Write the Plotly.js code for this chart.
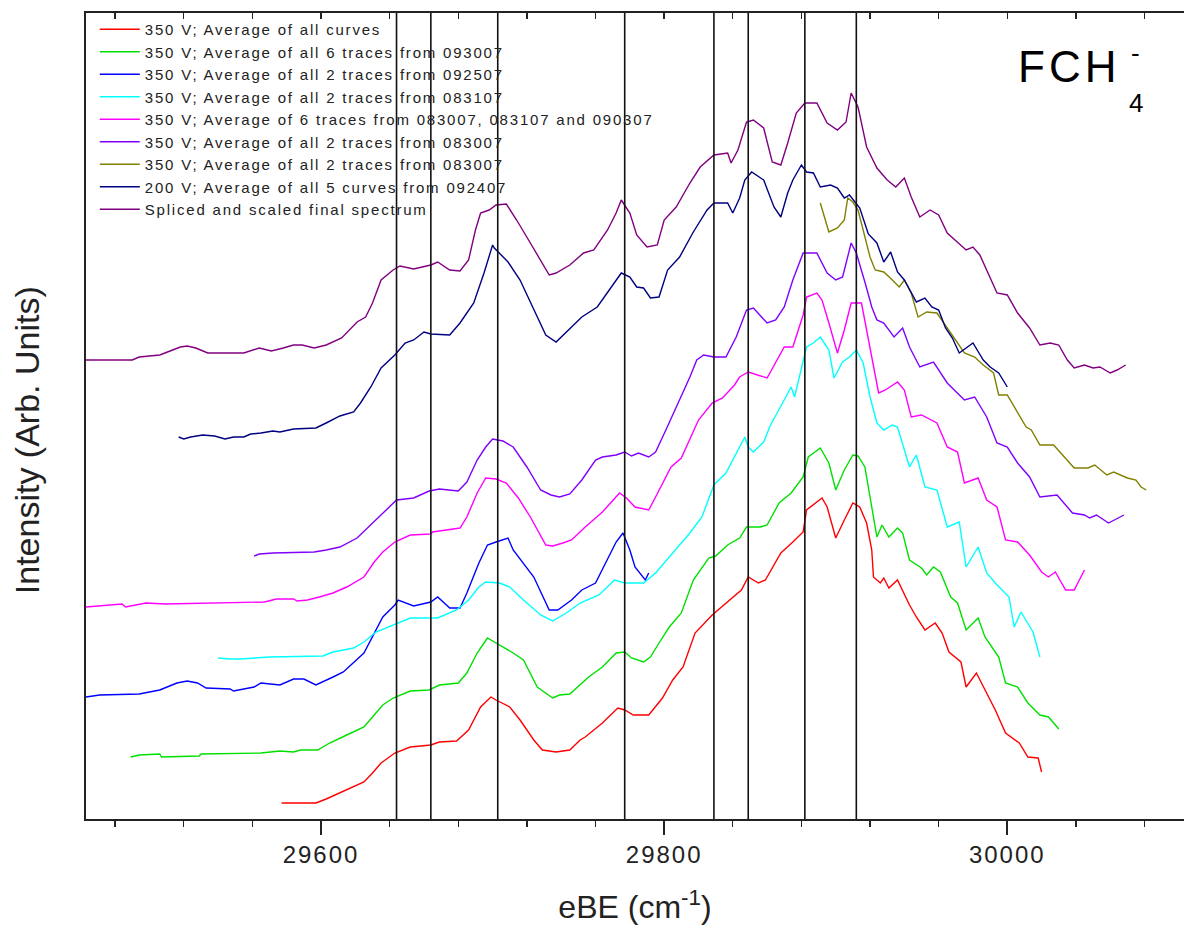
<!DOCTYPE html>
<html>
<head>
<meta charset="utf-8">
<script src="https://cdn.plot.ly/plotly-3.0.1.min.js"></script>
<style>
html,body{margin:0;padding:0;background:#fff;}
#chart{width:1184px;height:933px;}
.legendtext{letter-spacing:1.8px;}
.xtick text{letter-spacing:2px;}
</style>
</head>
<body>
<div id="chart"></div>
<script>
// eBE (cm^-1) and intensity (arbitrary units)
const redX = [29577,29597,29603,29615,29625,29630,29635,29643,29652,29664,29669,29679,29686,29693,29699,29702,29710,29716,29724,29729,29737,29745,29751,29754,29764,29773,29777,29782,29791,29799,29805,29811,29818,29828,29836,29845,29849,29855,29859,29868,29875,29881,29883,29889,29892,29895,29900,29905,29910,29914,29918,29921,29922,29926,29928,29931,29936,29943,29947,29952,29958,29962,29966,29973,29976,29982,29987,29993,29999,30007,30012,30018,30020];
const redY = [16,16,20,29,37,46,56,66,72,74,77,78,89,112,122,119,112,99,79,69,67,69,79,82,96,111,109,104,104,121,139,152,186,204,216,229,242,236,239,266,277,287,309,317,321,312,281,299,316,312,296,269,242,236,241,231,239,214,202,189,196,186,167,157,132,146,129,109,86,76,62,61,47];

const greenX = [29489,29494,29506,29507,29529,29530,29565,29576,29584,29588,29598,29605,29615,29625,29630,29636,29642,29652,29663,29669,29680,29685,29691,29697,29701,29706,29712,29718,29726,29735,29739,29745,29751,29756,29764,29772,29777,29781,29788,29792,29797,29803,29810,29817,29826,29830,29837,29844,29848,29856,29860,29867,29874,29881,29884,29891,29896,29900,29905,29910,29913,29917,29920,29924,29927,29931,29936,29939,29943,29950,29953,29957,29961,29967,29971,29976,29983,29987,29995,29999,30006,30012,30019,30024,30030];
const greenY = [62,64,65,62,63,65,66,68,67,69,69,76,84,92,102,114,121,128,129,134,136,146,166,181,177,172,166,159,132,121,124,125,134,142,152,166,167,161,157,162,176,192,206,239,261,263,274,281,292,292,294,316,326,342,362,371,356,329,349,364,363,352,322,282,294,282,291,286,259,251,244,252,247,222,216,189,201,182,162,136,132,116,104,102,90];

const blueX = [29463,29471,29494,29506,29516,29522,29528,29533,29547,29549,29561,29565,29576,29584,29590,29597,29607,29613,29625,29630,29636,29643,29645,29654,29664,29668,29675,29681,29685,29692,29697,29702,29709,29712,29718,29724,29733,29738,29746,29752,29760,29766,29772,29776,29780,29783,29789,29791];
const blueY = [122,124,125,129,136,138,136,131,130,128,132,136,134,140,140,134,142,147,166,182,202,214,219,213,217,222,211,211,226,256,274,277,281,269,256,242,209,209,219,229,236,256,277,286,269,252,239,246];

const cyanX = [29540,29547,29553,29570,29601,29607,29619,29625,29632,29642,29652,29668,29679,29686,29692,29696,29704,29710,29718,29728,29735,29743,29751,29762,29771,29777,29788,29795,29805,29815,29822,29829,29836,29841,29847,29849,29852,29858,29862,29869,29874,29876,29881,29883,29887,29891,29896,29899,29904,29908,29912,29916,29920,29924,29928,29933,29936,29940,29943,29947,29952,29959,29965,29972,29976,29983,29988,29993,30001,30004,30008,30015,30019];
const cyanY = [161,160,160,162,163,167,171,177,187,194,201,201,209,219,232,237,236,232,219,204,198,206,216,224,239,236,236,246,266,286,302,334,346,362,382,372,367,377,394,416,432,422,456,472,476,482,469,441,457,462,469,456,422,396,389,394,392,369,352,364,332,329,292,297,252,272,246,236,222,192,207,187,162];

const magentaX = [29463,29484,29486,29498,29509,29532,29567,29574,29584,29586,29592,29599,29607,29615,29625,29631,29636,29643,29652,29664,29665,29681,29685,29691,29696,29702,29708,29715,29722,29731,29735,29741,29746,29754,29764,29774,29778,29783,29791,29795,29804,29810,29820,29828,29834,29841,29844,29849,29860,29870,29875,29881,29883,29889,29892,29896,29901,29905,29909,29915,29919,29923,29925,29929,29936,29940,29944,29950,29959,29965,29971,29975,29983,29988,29994,29999,30006,30013,30020,30024,30028,30034,30039,30045];
const magentaY = [212,215,212,216,215,216,217,220,220,218,219,222,226,232,242,257,267,277,284,285,287,291,302,326,341,340,336,321,302,274,273,276,279,292,307,326,321,312,309,322,352,361,399,416,421,434,442,447,441,472,472,504,522,526,519,496,466,489,516,516,479,442,426,429,437,429,402,404,396,372,367,336,341,319,312,279,277,264,247,242,247,229,229,249];

const violetX = [29561,29564,29572,29596,29603,29611,29621,29629,29638,29644,29654,29663,29669,29680,29685,29691,29696,29700,29706,29712,29720,29728,29734,29739,29745,29752,29760,29764,29772,29777,29781,29785,29791,29795,29801,29811,29815,29819,29823,29829,29836,29842,29848,29852,29860,29865,29870,29875,29881,29889,29895,29900,29904,29909,29912,29917,29921,29924,29928,29934,29939,29943,29949,29957,29965,29975,29981,29988,29994,30000,30006,30013,30019,30029,30038,30045,30048,30052,30059,30068];
const violetY = [263,265,266,267,269,272,281,294,309,319,321,328,330,328,337,359,372,380,378,372,352,329,324,322,325,339,359,362,364,367,363,366,362,367,389,426,442,459,464,462,462,482,509,511,496,499,512,539,566,566,546,539,542,576,566,537,512,499,496,482,491,472,452,457,436,419,422,402,376,372,356,342,322,324,306,304,301,304,296,304];

const oliveX = [29891,29896,29901,29905,29907,29910,29913,29917,29920,29923,29928,29933,29937,29940,29944,29948,29953,29959,29965,29969,29975,29981,29986,29992,29995,30000,30005,30011,30014,30019,30027,30033,30039,30047,30051,30058,30062,30070,30075,30078,30081];
const oliveY = [616,587,591,599,621,617,609,582,562,549,547,539,532,539,526,502,507,506,491,482,466,462,454,446,424,424,409,392,389,374,374,362,351,351,354,344,347,341,339,332,329];

const navyX = [29517,29520,29524,29531,29538,29544,29549,29555,29559,29565,29572,29576,29584,29597,29603,29611,29619,29623,29629,29635,29643,29649,29654,29660,29664,29675,29681,29689,29695,29700,29701,29709,29716,29724,29731,29737,29744,29752,29761,29769,29775,29780,29784,29788,29792,29797,29802,29809,29817,29825,29829,29837,29840,29844,29847,29851,29858,29864,29868,29872,29875,29880,29883,29887,29891,29897,29901,29905,29908,29914,29919,29924,29928,29932,29936,29940,29944,29947,29952,29956,29960,29964,29968,29972,29976,29980,29986,29990,29995,30000];
const navyY = [382,380,382,384,383,380,382,382,385,386,388,387,390,391,396,403,407,416,432,451,464,476,479,487,485,484,496,516,546,574,571,557,539,509,484,477,489,502,512,532,546,542,532,531,521,522,549,562,587,609,616,616,606,621,639,647,639,612,602,626,639,654,647,646,632,634,631,621,624,611,585,576,557,567,547,539,526,517,521,512,509,491,481,466,471,476,459,452,446,432];

const finalX = [29463,29490,29494,29506,29512,29518,29522,29527,29534,29555,29564,29571,29578,29584,29589,29596,29603,29612,29621,29626,29630,29635,29642,29646,29654,29664,29668,29675,29681,29686,29690,29693,29698,29702,29708,29714,29722,29728,29733,29737,29745,29753,29759,29767,29772,29775,29780,29784,29790,29796,29800,29807,29815,29821,29829,29837,29839,29843,29848,29852,29858,29863,29868,29872,29877,29882,29889,29895,29901,29906,29909,29913,29918,29924,29930,29935,29940,29944,29949,29955,29960,29965,29976,29980,29984,29994,30000,30006,30013,30019,30025,30030,30035,30039,30045,30050,30054,30060,30064,30069];
const finalY = [459,459,462,464,468,472,473,471,466,466,471,468,471,474,474,471,474,481,497,502,516,539,549,553,550,554,557,549,548,559,589,606,609,614,615,599,576,559,544,546,554,566,569,589,606,619,606,584,572,574,599,612,636,652,664,666,656,669,697,699,691,657,654,676,706,716,716,696,689,697,726,712,672,651,639,632,641,622,602,609,604,586,569,572,564,526,524,506,491,474,476,474,459,451,454,451,452,446,449,454];

const peakPositions = [29644, 29664, 29703, 29777, 29829, 29849, 29882, 29912];

const seriesNames = [
  "350 V; Average of all curves",
  "350 V; Average of all 6 traces from 093007",
  "350 V; Average of all 2 traces from 092507",
  "350 V; Average of all 2 traces from 083107",
  "350 V; Average of 6 traces from 083007, 083107 and 090307",
  "350 V; Average of all 2 traces from 083007",
  "350 V; Average of all 2 traces from 083007",
  "200 V; Average of all 5 curves from 092407",
  "Spliced and scaled final spectrum"
];
const seriesColors = ["#ff0000","#00e000","#0000ff","#00ffff","#ff00ff","#8000ff","#808000","#000080","#800080"];
const seriesX = [redX, greenX, blueX, cyanX, magentaX, violetX, oliveX, navyX, finalX];
const seriesY = [redY, greenY, blueY, cyanY, magentaY, violetY, oliveY, navyY, finalY];

const FONT = "Liberation Sans, Arial, sans-serif";
const traces = seriesNames.map((name, i) => ({
  type: "scatter", mode: "lines", name: name,
  x: seriesX[i], y: seriesY[i],
  line: {color: seriesColors[i], width: 1.4},
  hoverinfo: "skip"
}));
traces.push({type: "scatter", mode: "lines", x: [], y: [], xaxis: "x2", showlegend: false, hoverinfo: "skip"});

const xRange = [29463, 30103];
const shapes = peakPositions.map(p => ({
  type: "line", xref: "x", yref: "paper", x0: p, x1: p, y0: 0, y1: 1,
  line: {color: "#111", width: 1.6}
}));

const layout = {
  width: 1184, height: 933,
  margin: {l: 86, r: 0, t: 13, b: 114},
  paper_bgcolor: "#fff", plot_bgcolor: "#fff",
  font: {family: FONT, color: "#222"},
  showlegend: true,
  legend: {
    x: 0.008, y: 1.0, xanchor: "left", yanchor: "top",
    bgcolor: "rgba(0,0,0,0)", borderwidth: 0,
    font: {family: FONT, size: 15, color: "#222"},
    itemwidth: 40, traceorder: "normal"
  },
  xaxis: {
    range: xRange, showline: true, linecolor: "#222", linewidth: 1.6,
    ticks: "outside", ticklen: 14, tickwidth: 1.6, tickcolor: "#222",
    tick0: 29600, dtick: 200, tickformat: "d",
    tickfont: {family: FONT, size: 24, color: "#222"},
    minor: {tick0: 29600, dtick: 40, ticks: "outside", ticklen: 6, tickwidth: 1.4, tickcolor: "#222", showgrid: false},
    showgrid: false, zeroline: false,
    title: {text: "eBE (cm<sup>-1</sup>)", font: {family: FONT, size: 32, color: "#222"}, standoff: 28}
  },
  xaxis2: {
    overlaying: "x", side: "top", anchor: "y", range: xRange,
    showline: true, linecolor: "#222", linewidth: 1.6,
    ticks: "inside", ticklen: 6, tickwidth: 1.4, tickcolor: "#222",
    tick0: 29600, dtick: 40, showticklabels: false, showgrid: false, zeroline: false
  },
  yaxis: {
    range: [0, 806], showline: true, linecolor: "#222", linewidth: 1.8,
    ticks: "", showticklabels: false, showgrid: false, zeroline: false
  },
  shapes: shapes,
  annotations: [
    {xref: "paper", yref: "paper", x: -0.0537, y: 0.470, xanchor: "center", yanchor: "middle",
     textangle: -90, text: "Intensity (Arb. Units)", showarrow: false,
     font: {family: FONT, size: 34, color: "#222"}},
    {xref: "paper", yref: "paper", x: 0.895, y: 0.934, xanchor: "center", yanchor: "middle",
     text: "<span style=\"letter-spacing:4px\">FCH</span>", showarrow: false, font: {family: FONT, size: 44, color: "#000"}},
    {xref: "paper", yref: "paper", x: 0.956, y: 0.888, xanchor: "center", yanchor: "middle",
     text: "4", showarrow: false, font: {family: FONT, size: 26, color: "#000"}},
    {xref: "paper", yref: "paper", x: 0.956, y: 0.950, xanchor: "center", yanchor: "middle",
     text: "-", showarrow: false, font: {family: FONT, size: 26, color: "#000"}}
  ]
};

Plotly.newPlot("chart", traces, layout, {staticPlot: true, displayModeBar: false});
</script>
</body>
</html>
